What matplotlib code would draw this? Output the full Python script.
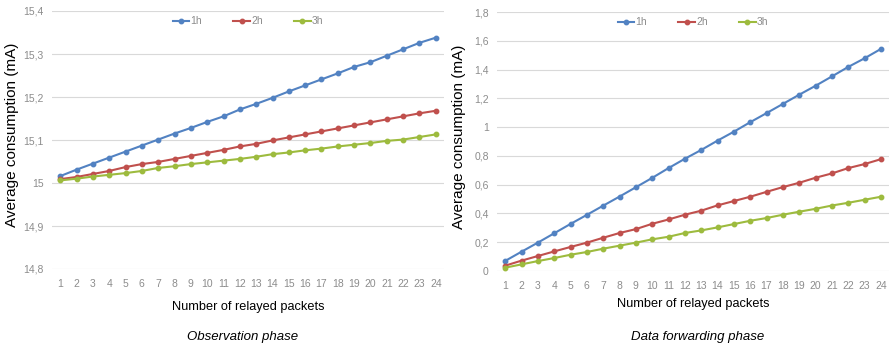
import matplotlib
matplotlib.use("Agg")
import matplotlib.pyplot as plt

packets = list(range(1, 25))
x_labels = [str(p) for p in packets]

obs_1h = [15.016, 15.031, 15.045, 15.059, 15.073, 15.087, 15.101, 15.115, 15.128, 15.142,
          15.155, 15.171, 15.184, 15.198, 15.213, 15.227, 15.241, 15.255, 15.270, 15.281,
          15.296, 15.311, 15.326, 15.338]
obs_2h = [15.009, 15.014, 15.021, 15.028, 15.037, 15.044, 15.049, 15.056, 15.063, 15.070,
          15.077, 15.085, 15.091, 15.099, 15.106, 15.113, 15.120, 15.127, 15.134, 15.141,
          15.148, 15.155, 15.162, 15.168]
obs_3h = [15.006, 15.010, 15.015, 15.019, 15.023, 15.028, 15.035, 15.039, 15.044, 15.048,
          15.052, 15.056, 15.061, 15.067, 15.071, 15.076, 15.080, 15.085, 15.089, 15.093,
          15.098, 15.101, 15.107, 15.113]

fwd_1h = [0.070, 0.134, 0.197, 0.262, 0.327, 0.390, 0.454, 0.517, 0.582, 0.647,
          0.715, 0.780, 0.841, 0.906, 0.968, 1.034, 1.097, 1.161, 1.225, 1.287,
          1.352, 1.418, 1.478, 1.543]
fwd_2h = [0.037, 0.072, 0.104, 0.136, 0.167, 0.197, 0.231, 0.264, 0.291, 0.328,
          0.358, 0.391, 0.419, 0.456, 0.486, 0.516, 0.550, 0.583, 0.613, 0.648,
          0.678, 0.715, 0.743, 0.777]
fwd_3h = [0.023, 0.046, 0.069, 0.090, 0.113, 0.132, 0.155, 0.176, 0.197, 0.220,
          0.238, 0.264, 0.282, 0.303, 0.326, 0.349, 0.368, 0.391, 0.412, 0.432,
          0.455, 0.474, 0.495, 0.516]

series_names = ["1h", "2h", "3h"]
colors = ["#5282C2", "#C0504D", "#9DBB3E"]

obs_yticks = [14.8, 14.9, 15.0, 15.1, 15.2, 15.3, 15.4]
obs_yticklabels = ["14,8", "14,9", "15", "15,1", "15,2", "15,3", "15,4"]
fwd_yticks = [0, 0.2, 0.4, 0.6, 0.8, 1.0, 1.2, 1.4, 1.6, 1.8]
fwd_yticklabels = ["0", "0,2", "0,4", "0,6", "0,8", "1", "1,2", "1,4", "1,6", "1,8"]

plt.rcParams['font.family'] = ['Liberation Sans', 'DejaVu Sans']

W, H = 893, 345
fig = plt.figure(figsize=(W / 100, H / 100), dpi=100)

def make_axes(rect, data, yticks, yticklabels, ylim, title, title_x, xlabel_y, ylabel_x):
    ax = fig.add_axes(rect)
    for vals, name, c in zip(data, series_names, colors):
        ax.plot(packets, vals, color=c, lw=1.5, marker="o", ms=3.2, label=name)
    ax.set_xlim(0.5, 24.5)
    ax.set_ylim(*ylim)
    ax.set_xticks(packets)
    ax.set_xticklabels(x_labels)
    ax.set_yticks(yticks)
    ax.set_yticklabels(yticklabels)
    ax.tick_params(axis="both", length=0, labelsize=7.5, labelcolor="#8C8C8C")
    ax.tick_params(axis="x", pad=7)
    ax.tick_params(axis="y", pad=6)
    for s in ax.spines.values():
        s.set_visible(False)
    ax.grid(axis="y", color="#D9D9D9", lw=0.8)
    ax.set_axisbelow(True)
    ax.set_ylabel("Average consumption (mA)", fontsize=11, color="#000000")
    ax.yaxis.set_label_coords(ylabel_x, 0.52)
    ax.set_xlabel("Number of relayed packets", fontsize=9.2, color="#000000")
    ax.xaxis.set_label_coords(0.5, xlabel_y)
    leg = ax.legend(loc="upper center", bbox_to_anchor=(0.5, 1.0), ncol=3, frameon=False,
                    fontsize=7.5, handlelength=1.6, columnspacing=3.0, handletextpad=0.1,
                    borderaxespad=0.1)
    for t in leg.get_texts():
        t.set_color("#8C8C8C")
    fig.text(title_x, 1 - 337 / H, title, fontsize=9.5, style="italic",
             ha="center", va="center")
    return ax

make_axes([52 / W, 1 - 269 / H, 392 / W, 258 / H], [obs_1h, obs_2h, obs_3h],
          obs_yticks, obs_yticklabels, (14.8, 15.4), "Observation phase", 243 / W, -0.124, -0.085)
make_axes([497 / W, 1 - 271 / H, 392 / W, 259 / H], [fwd_1h, fwd_2h, fwd_3h],
          fwd_yticks, fwd_yticklabels, (0, 1.8), "Data forwarding phase", 698 / W, -0.106, -0.078)

fig.savefig("out.png", dpi=100)
